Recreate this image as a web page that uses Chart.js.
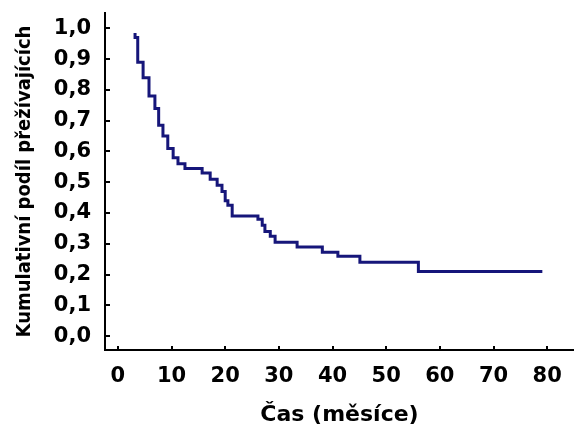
<!DOCTYPE html>
<html>
<head>
<meta charset="utf-8">
<script src="https://cdn.jsdelivr.net/npm/chart.js@4/dist/chart.umd.min.js"></script>
<style>
    html, body { margin: 0; padding: 0; background: #fff; }
    canvas { display: block; }
</style>
</head>
<body>
<canvas id="kmChart" width="574" height="428"></canvas>
<script>
(function () {
    'use strict';

    // Kaplan-Meier steps: time of event (months) and survival after it
    var eventTimes = [3.2, 3.2, 3.7, 4.7, 5.8, 6.9, 7.6, 8.4, 9.3, 10.3, 11.2, 12.5, 15.7, 17.2, 18.5, 19.4,
        20.0, 20.5, 21.3, 26.1, 26.9, 27.4, 28.4, 29.3, 33.4, 38.1, 41.0, 45.1, 56.0, 79.1];
    var survival = [0.985, 0.97, 0.89, 0.84, 0.78, 0.74, 0.685, 0.65, 0.61, 0.58, 0.56, 0.545, 0.53, 0.51, 0.49, 0.47,
        0.44, 0.425, 0.39, 0.38, 0.36, 0.34, 0.325, 0.305, 0.29, 0.273, 0.26, 0.24, 0.21, 0.21];

    var xTicks = [0, 10, 20, 30, 40, 50, 60, 70, 80];
    var yTicks = [0, 0.1, 0.2, 0.3, 0.4, 0.5, 0.6, 0.7, 0.8, 0.9, 1.0];

    var xTitle = 'Čas (měsíce)';
    var yTitle = 'Kumulativní podíl přežívajících';

    var points = eventTimes.map(function (t, i) { return { x: t, y: survival[i] }; });

    var tickFont = { family: "'DejaVu Sans', sans-serif", size: 21, weight: 'bold' };

    // small tick marks pointing into the plot
    var innerTicks = {
        id: 'innerTicks',
        afterDraw: function (chart) {
            var ctx = chart.ctx;
            var xs = chart.scales.x;
            var ys = chart.scales.y;
            ctx.save();
            ctx.strokeStyle = '#000';
            ctx.lineWidth = 2;
            ctx.beginPath();
            xs.ticks.forEach(function (t) {
                var px = Math.round(xs.getPixelForValue(t.value));
                ctx.moveTo(px, xs.top);
                ctx.lineTo(px, xs.top - 4);
            });
            ys.ticks.forEach(function (t) {
                var py = Math.round(ys.getPixelForValue(t.value));
                ctx.moveTo(ys.right, py);
                ctx.lineTo(ys.right + 5, py);
            });
            ctx.stroke();
            ctx.restore();
        }
    };

    new Chart(document.getElementById('kmChart'), {
        type: 'line',
        data: {
            datasets: [{
                data: points,
                stepped: 'before',
                borderColor: '#16167a',
                borderWidth: 3,
                pointRadius: 0,
                fill: false
            }]
        },
        options: {
            responsive: false,
            animation: false,
            layout: { padding: { top: 13, right: 0, left: 0, bottom: 0 } },
            plugins: { legend: { display: false }, tooltip: { enabled: false } },
            scales: {
                x: {
                    type: 'linear',
                    min: -2.4,
                    max: 85,
                    afterBuildTicks: function (s) { s.ticks = xTicks.map(function (v) { return { value: v }; }); },
                    afterFit: function (s) { s.height = 78; s.paddingLeft = 0; s.paddingRight = 0; },
                    grid: { display: false, drawTicks: false },
                    border: { display: true, color: '#000', width: 2 },
                    ticks: {
                        color: '#000',
                        font: tickFont,
                        padding: 14,
                        maxRotation: 0,
                        autoSkip: false,
                        callback: function (v) { return String(v); }
                    },
                    title: {
                        display: true,
                        text: xTitle,
                        color: '#000',
                        font: { family: "'DejaVu Sans', sans-serif", size: 22, weight: 'bold' },
                        padding: { top: 0, bottom: 0 }
                    }
                },
                y: {
                    type: 'linear',
                    min: -0.045,
                    max: 1.05,
                    afterBuildTicks: function (s) { s.ticks = yTicks.map(function (v) { return { value: v }; }); },
                    afterFit: function (s) { s.width = 105; s.paddingTop = 0; s.paddingBottom = 0; },
                    grid: { display: false, drawTicks: false },
                    border: { display: true, color: '#000', width: 2 },
                    ticks: {
                        color: '#000',
                        font: tickFont,
                        padding: 14,
                        autoSkip: false,
                        callback: function (v) { return v.toFixed(1).replace('.', ','); }
                    },
                    title: {
                        display: true,
                        text: yTitle,
                        color: '#000',
                        font: { family: "'DejaVu Sans Condensed', 'DejaVu Sans', sans-serif", size: 20, weight: 'bold' },
                        padding: { top: 13, bottom: 0 }
                    }
                }
            }
        },
        plugins: [innerTicks]
    });
})();
</script>
</body>
</html>
